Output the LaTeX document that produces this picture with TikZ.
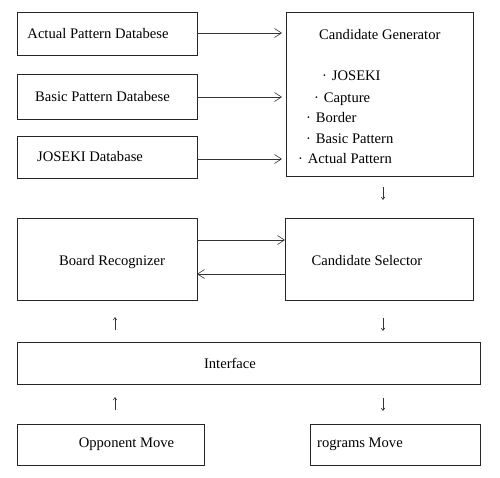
\documentclass[tikz,border=0pt]{standalone}
\usepackage{fontspec}
\setmainfont{Liberation Serif}
\usetikzlibrary{arrows.meta}
\begin{document}
\begin{tikzpicture}[x=1pt,y=-1pt,
  box/.style={draw=black!85,line width=0.6pt,inner sep=0pt,font=\fontsize{14.6}{17}\selectfont},
  conn/.style={draw=black!80,line width=0.6pt,-{Straight Barb[length=7pt,width=9pt,line width=0.6pt]}},
  tick/.style={draw=black!80,line width=0.6pt,-{Straight Barb[length=2.5pt,width=3.5pt,line width=0.6pt]}},
  lbl/.style={font=\fontsize{14.6}{17}\selectfont,inner sep=0pt,anchor=base west}]
\useasboundingbox (0,0) rectangle (500,477);
\fill[white] (0,0) rectangle (500,477);
% left databases
\node[box,minimum width=180,minimum height=43] (apd) at (107,33.5) {\hspace*{-18pt}Actual Pattern Databese};
\node[box,minimum width=180,minimum height=45] (bpd) at (107,96.5) {\hspace*{-9pt}Basic Pattern Databese};
\node[box,minimum width=180,minimum height=42] (jd) at (107,157) {\hspace*{-34pt}JOSEKI Database};
% candidate generator
\node[box,minimum width=187,minimum height=164] (gen) at (379.5,94) {};
\node[lbl] (gt) at (319,39) {Candidate Generator};
\node[lbl] (b1) at (322,80) {·\,\,JOSEKI};
\node[lbl] (b2) at (314,102) {·\,\,Capture};
\node[lbl] (b3) at (306,122) {·\,\,Border};
\node[lbl] (b4) at (306,143) {·\,\,Basic Pattern};
\node[lbl] (b5) at (298,163) {·\,\,Actual Pattern};
% arrows from databases
\coordinate (g1) at (282,33);
\coordinate (g2) at (282,97);
\coordinate (g3) at (282,159);
\draw[conn] (apd.east |- g1) -- (g1);
\draw[conn] (bpd.east |- g2) -- (g2);
\draw[conn] (jd.east |- g3) -- (g3);
% board recognizer and selector
\node[box,minimum width=180,minimum height=82] (br) at (107,259) {\raisebox{-3pt}[10pt][3pt]{\hspace*{10pt}Board Recognizer}};
\node[box,minimum width=188,minimum height=82] (cs) at (379,259) {\raisebox{-3pt}[10pt][3pt]{\hspace*{-24pt}Candidate Selector}};
\coordinate (r1) at (285,240);
\coordinate (l1) at (197,274);
\draw[conn] (br.east |- r1) -- (r1);
\draw[conn] (cs.west |- l1) -- (l1);
% interface
\node[box,minimum width=463,minimum height=42] (ifc) at (248.5,363) {\hspace*{-37pt}Interface};
% bottom boxes
\node[box,minimum width=187,minimum height=41] (opp) at (110.5,444.5) {\hspace*{32pt}Opponent Move};
\node[box,minimum width=170,minimum height=41] (prg) at (395,444.5) {\hspace*{-70pt}rograms Move};
% small arrows
\coordinate (t1a) at (383,187); \coordinate (t1b) at (383,200);
\coordinate (t2a) at (115,330); \coordinate (t2b) at (115,317);
\coordinate (t3a) at (383,318); \coordinate (t3b) at (383,331);
\coordinate (t4a) at (115,410); \coordinate (t4b) at (115,397);
\coordinate (t5a) at (383,398); \coordinate (t5b) at (383,411);
\draw[tick] (t1a) -- (t1b);
\draw[tick] (t2a) -- (t2b);
\draw[tick] (t3a) -- (t3b);
\draw[tick] (t4a) -- (t4b);
\draw[tick] (t5a) -- (t5b);
\end{tikzpicture}
\end{document}
